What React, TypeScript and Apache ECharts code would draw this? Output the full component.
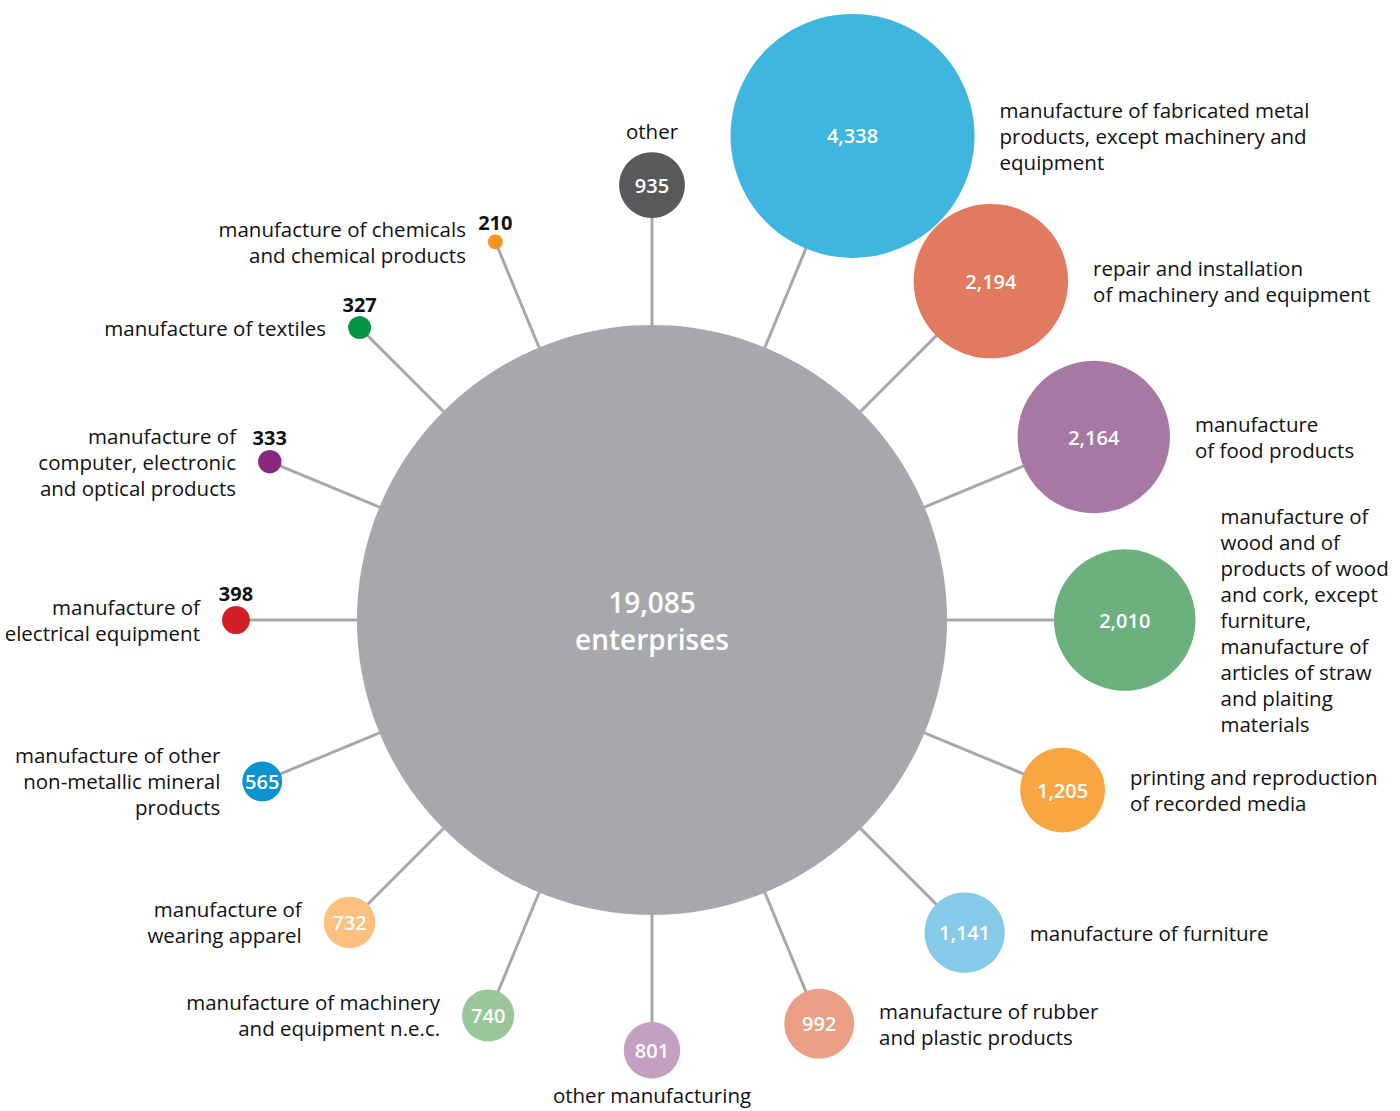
import React, { useEffect, useRef } from 'react';
import * as echarts from 'echarts';

const TOTAL_VALUE = 19085;
const TOTAL_LABEL = 'enterprises';

const categories = [
  'other',
  'manufacture of fabricated metal\nproducts, except machinery and\nequipment',
  'repair and installation\nof machinery and equipment',
  'manufacture\nof food products',
  'manufacture of\nwood and of\nproducts of wood\nand cork, except\nfurniture,\nmanufacture of\narticles of straw\nand plaiting\nmaterials',
  'printing and reproduction\nof recorded media',
  'manufacture of furniture',
  'manufacture of rubber\nand plastic products',
  'other manufacturing',
  'manufacture of machinery\nand equipment n.e.c.',
  'manufacture of\nwearing apparel',
  'manufacture of other\nnon-metallic mineral\nproducts',
  'manufacture of\nelectrical equipment',
  'manufacture of\ncomputer, electronic\nand optical products',
  'manufacture of textiles',
  'manufacture of chemicals\nand chemical products',
];

const values = [935, 4338, 2194, 2164, 2010, 1205, 1141, 992, 801, 740, 732, 565, 398, 333, 327, 210];

const palette = [
  '#58595b', '#3fb6e0', '#e17a5e', '#a878a4', '#6bb07d', '#f9a541', '#86cae9', '#eba086',
  '#c3a0c2', '#99c79a', '#fdc07e', '#0b93d0', '#d41f27', '#88287f', '#079447', '#f7941d',
];

const CENTER_R = 295;
const GAP = 107;
const K = 0.0352;
const R_CAP = 122;
const FONT = '"Open Sans", "Noto Sans", sans-serif';
const TEXT = '#111111';

const rOf = (v: number) => Math.min(K * v, R_CAP);
const fmt = (v: number) => v.toLocaleString('en-US');

export default function App() {
  const ref = useRef<HTMLDivElement>(null);
  useEffect(() => {
    document.body.style.margin = '0';
    const chart = echarts.init(ref.current!, null, { renderer: 'svg' });
    const n = categories.length;
    const side = (i: number) => (i === 0 ? 'top' : i < n / 2 ? 'right' : i === n / 2 ? 'bottom' : 'left');
    const pts = values.map((v, i) => [CENTER_R + GAP + rOf(v), (i * 360) / n]);

    const satData = values.map((v, i) => ({
      value: pts[i],
      symbolSize: rOf(v) * 2,
      itemStyle: { color: palette[i], opacity: 1 },
      label:
        v >= 500
          ? {
              show: true,
              position: 'inside',
              formatter: fmt(v),
              color: '#fff',
              fontSize: 20,
              fontWeight: 600,
              fontFamily: FONT,
            }
          : {
              show: true,
              position: 'top',
              distance: 2,
              formatter: fmt(v),
              color: TEXT,
              fontSize: 20,
              fontWeight: 'bold',
              fontFamily: FONT,
            },
    }));

    const nameData = values.map((v, i) => {
      const s = side(i);
      return {
        value: pts[i],
        symbolSize: rOf(v) * 2,
        label: {
          show: true,
          position: s,
          distance: s === 'right' ? 25 : s === 'left' ? 22 : s === 'top' ? 8 : 6,
          formatter: categories[i],
          color: TEXT,
          fontSize: 20.5,
          lineHeight: s === 'bottom' ? 22 : 26,
          fontFamily: FONT,
          align: s === 'right' ? 'left' : s === 'left' ? 'right' : 'center',
        },
      };
    });

    chart.setOption({
      animation: false,
      polar: { center: [652, 620], radius: [0, 600] },
      radiusAxis: { type: 'value', min: 0, max: 600, show: false },
      angleAxis: { type: 'value', min: 0, max: 360, startAngle: 90, clockwise: true, show: false },
      series: [
        {
          type: 'custom',
          coordinateSystem: 'polar',
          silent: true,
          z: 1,
          data: pts,
          renderItem: (params: any, api: any) => {
            const a = api.value(1);
            const p0 = api.coord([0, a]);
            const p1 = api.coord([api.value(0), a]);
            return {
              type: 'line',
              shape: { x1: p0[0], y1: p0[1], x2: p1[0], y2: p1[1] },
              style: { stroke: '#a7a8aa', lineWidth: 3 },
            };
          },
        },
        {
          type: 'scatter',
          coordinateSystem: 'polar',
          silent: true,
          z: 2,
          symbol: 'circle',
          data: [
            {
              value: [0, 0],
              symbolSize: CENTER_R * 2,
              itemStyle: { color: '#a7a8ab', opacity: 1 },
              label: {
                show: true,
                position: 'inside',
                formatter: fmt(TOTAL_VALUE) + '\n' + TOTAL_LABEL,
                color: '#fff',
                fontSize: 28,
                fontWeight: 600,
                lineHeight: 37,
                fontFamily: FONT,
              },
            },
          ],
        },
        {
          type: 'scatter',
          coordinateSystem: 'polar',
          silent: true,
          z: 3,
          symbol: 'circle',
          data: satData,
        },
        {
          type: 'scatter',
          coordinateSystem: 'polar',
          silent: true,
          z: 4,
          symbol: 'circle',
          itemStyle: { color: 'rgba(0,0,0,0)', opacity: 1 },
          data: nameData,
        },
      ],
    });
    return () => chart.dispose();
  }, []);
  return <div ref={ref} style={{ width: 1400, height: 1111 }} />;
}
